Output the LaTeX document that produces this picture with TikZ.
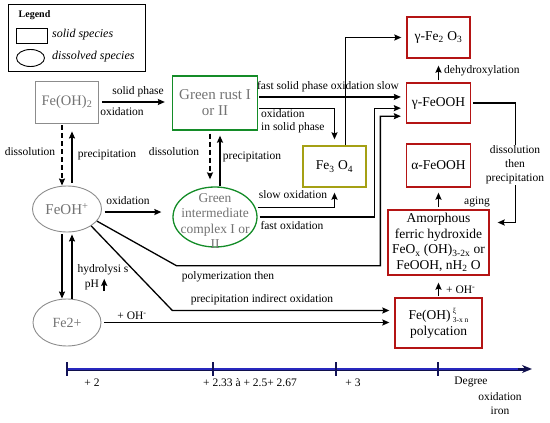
\documentclass[tikz,border=0pt]{standalone}
\usepackage{fontspec}
\setmainfont{Liberation Serif}
\usetikzlibrary{shapes.geometric,arrows.meta}
\definecolor{boxred}{RGB}{180,20,20}
\definecolor{boxgreen}{RGB}{20,140,40}
\definecolor{boxolive}{RGB}{165,160,20}
\definecolor{axisblue}{RGB}{40,40,190}
\begin{document}
\begin{tikzpicture}[x=1pt,y=-1pt,>={Stealth[length=7pt,width=6pt,inset=1pt]},
    lbl/.style={font=\fontsize{11.5}{13.5}\selectfont,inner sep=1pt},
    boxtxt/.style={font=\fontsize{13.5}{15.5}\selectfont,align=center,inner sep=1pt},
    dimtxt/.style={text=black!55},
    redbox/.style={boxtxt,draw=boxred,line width=1.3pt},
    arr/.style={->,line width=1.3pt},
    dsh/.style={arr,dash pattern=on 5pt off 3pt},
    axtick/.style={draw=axisblue!45!black,line width=1.6pt}]
  \useasboundingbox (0,0) rectangle (550,423);
  % legend
  \node[draw,line width=0.9pt,minimum width=137pt,minimum height=67pt] (legend) at (76.5,37.5) {};
  \node[font=\fontsize{10}{12}\selectfont\bfseries,inner sep=0pt] (legtitle) at (34.5,15) {Legend};
  \node[draw,line width=0.9pt,minimum width=31pt,minimum height=15pt,inner sep=0pt] (legsolid) at (31.5,35.5) {};
  \node[draw,ellipse,line width=0.9pt,minimum width=28pt,minimum height=17pt,inner sep=0pt] (legdiss) at (30.5,58) {};
  \node[lbl,font=\fontsize{12}{14}\selectfont\itshape,anchor=west] (legsolidtxt) at (51,35) {solid species};
  \node[lbl,font=\fontsize{12}{14}\selectfont\itshape,anchor=west] (legdisstxt) at (51,57) {dissolved species};
  % species
  \node[draw=black!45,line width=0.9pt,minimum width=63pt,minimum height=42pt,boxtxt,dimtxt,font=\fontsize{14.5}{16}\selectfont] (feoh2) at (67,102) {Fe(OH)\textsubscript{2}};
  \node[draw=boxgreen,line width=1.3pt,minimum width=85pt,minimum height=54pt,boxtxt,dimtxt,font=\fontsize{15}{16}\selectfont] (grust) at (215,103) {Green rust I\\or II};
  \node[draw=black!45,ellipse,line width=0.9pt,minimum width=69pt,minimum height=46pt,boxtxt,dimtxt,font=\fontsize{15}{16}\selectfont] (feohp) at (67,209) {FeOH\textsuperscript{+}};
  \node[draw=boxgreen,ellipse,line width=1.3pt,minimum width=84pt,minimum height=60pt] (gic) at (215,217) {};
  \node[boxtxt,dimtxt] (gictxt) at (215,221) {Green\\intermediate\\complex I or\\II};
  \node[draw=black!45,ellipse,line width=0.9pt,minimum width=68pt,minimum height=47pt,boxtxt,dimtxt,font=\fontsize{14}{16}\selectfont] (fe2) at (67,322.5) {Fe2+};
  \node[boxtxt,draw=boxolive,line width=1.3pt,minimum width=63pt,minimum height=41pt] (fe3o4) at (334.5,166.5) {Fe\textsubscript{3} O\textsubscript{4}};
  \node[redbox,minimum width=63pt,minimum height=41pt] (gfe2o3) at (438.5,37.5) {γ-Fe\textsubscript{2} O\textsubscript{3}};
  \node[redbox,minimum width=64pt,minimum height=40pt] (gfeooh) at (438.5,103) {γ-FeOOH};
  \node[redbox,minimum width=64pt,minimum height=43pt] (afeooh) at (438.5,165.5) {α-FeOOH};
  \node[redbox,minimum width=101pt,minimum height=65pt] (amorph) at (438.5,242.5) {Amorphous\\ferric hydroxide\\FeO\textsubscript{x} (OH)\textsubscript{3-2x} or\\FeOOH, nH\textsubscript{2} O};
  \node[redbox,minimum width=87pt,minimum height=50pt] (polyc) at (438.5,323) {Fe(OH)\,\raisebox{-0.4ex}{\fontsize{7.5}{7.5}\selectfont\shortstack[l]{ξ\\3-x n}}\\polycation};
  % labels
  \node[lbl] (lsolid) at (138,92) {solid phase};
  \node[lbl] (loxa) at (122,112) {oxidation};
  \node[lbl] (ldissa) at (30,152) {dissolution};
  \node[lbl] (lpreca) at (107,155) {precipitation};
  \node[lbl] (ldissb) at (174,152) {dissolution};
  \node[lbl] (lprecb) at (252,157) {precipitation};
  \node[lbl] (loxb) at (128,201) {oxidation};
  \node[lbl] (lfastsolid) at (328,87) {fast solid phase oxidation slow};
  \node[lbl,align=left,anchor=west,font=\fontsize{11.5}{13}\selectfont] (linsolid) at (260,121.5) {oxidation\\in solid phase};
  \node[lbl,anchor=west] (ldehyd) at (443,71) {dehydroxylation};
  \node[lbl] (lslow) at (293,195) {slow oxidation};
  \node[lbl] (lfast) at (292,226) {fast oxidation};
  \node[lbl] (lpolym) at (228,277) {polymerization then};
  \node[lbl] (lprecind) at (262,300) {precipitation indirect oxidation};
  \node[lbl] (lhydro) at (103,270) {hydrolysi s};
  \node[lbl] (ph) at (92,285) {pH};
  \node[lbl] (lohma) at (132,316) {+ OH\textsuperscript{-}};
  \node[lbl,anchor=west] (lohmb) at (445,290) {+ OH\textsuperscript{-}};
  \node[lbl] (laging) at (477,202) {aging};
  % connectors
  \draw[arr,shorten <=3pt,shorten >=7pt] (feoh2.east) -- (feoh2.east -| grust.west);
  \draw[dsh,shorten <=2pt] ([xshift=-5pt]feoh2.south) -- ([xshift=-5pt]feohp.north);
  \draw[arr,shorten <=3pt,shorten >=8pt] ([xshift=5pt]feohp.north) -- ([xshift=5pt]feoh2.south);
  \draw[dsh,shorten <=3pt,shorten >=7pt] ([xshift=-5pt]grust.south) -- ([xshift=-5pt]gic.north);
  \draw[arr,shorten >=5pt] ([xshift=5pt]gic.north) -- ([xshift=5pt]grust.south);
  \draw[arr,shorten <=3pt,shorten >=11pt] (feohp.-5) -- (feohp.-5 -| gic.west);
  \draw[arr,shorten <=2pt] ([xshift=-5pt]feohp.south) -- ([xshift=-5pt]fe2.north);
  \draw[arr,shorten >=2pt] ([xshift=5pt]fe2.north) -- ([xshift=5pt]feohp.south);
  \draw[arr,line width=1.5pt] ([xshift=4pt]ph.south east) -- ([xshift=4pt]ph.north east);
  \draw[arr,shorten <=3pt,shorten >=5pt] (fe2.east) -- (fe2.east -| polyc.west);
  \draw[arr,shorten <=1pt,shorten >=5pt] (grust.8) -- (grust.8 -| gfeooh.west);
  \draw[arr,shorten <=1pt,shorten >=6pt] (grust.-7) -| (fe3o4.north);
  \draw[arr,shorten >=5pt] (fe3o4.63) |- (gfe2o3.west);
  \draw[arr,shorten <=2pt,shorten >=5pt] (gic.13) -| (fe3o4.south);
  \draw[arr,shorten <=2pt,shorten >=5pt] (gic.east) -| ([xshift=-13pt]amorph.north west) |- (gfeooh.189);
  \draw[arr,shorten >=5pt] (feohp.-22) -- ([xshift=-211pt,yshift=10pt]amorph.south west) -| ([xshift=-7pt]amorph.north west) |- (gfeooh.202);
  \draw[arr,shorten >=5pt] (feohp.-35) -- ([xshift=-222pt,yshift=12.5pt]polyc.west) -- ([yshift=12.5pt]polyc.west);
  \draw[arr,shorten <=2pt,shorten >=7pt] (gfeooh.north) -- (gfe2o3.south);
  \draw[arr,shorten <=2pt,shorten >=5pt] (amorph.north) -- (afeooh.south);
  \draw[arr,shorten <=1pt,shorten >=7pt] (polyc.north) -- (amorph.south);
  \draw[arr,shorten <=2pt] (gfeooh.east) -| ([xshift=26pt,yshift=20pt]amorph.east) -- ([xshift=8pt,yshift=20pt]amorph.east);
  \node[lbl,fill=white,align=center,font=\fontsize{11.5}{14}\selectfont] (dissprec) at (515,165) {dissolution\\then\\precipitation};
  % oxidation degree axis
  \coordinate (axstart) at (67,369);
  \coordinate (axend) at (532,369);
  \draw[-{Stealth[length=10pt,width=8pt]},line width=3pt,draw=axisblue!40!black] (axstart) -- (axend);
  \draw[line width=1.5pt,draw=axisblue] (axstart) -- ([xshift=-14pt]axend);
  \foreach \t in {67,213,336,438} \draw[axtick] (\t,362) -- (\t,376);
  \node[lbl] (ltwo) at (92,383) {+ 2};
  \node[lbl,anchor=west] (lmixed) at (202,383) {+ 2.33 à + 2.5+ 2.67};
  \node[lbl] (lthree) at (353,383) {+ 3};
  \node[lbl] (ldega) at (471,382) {Degree};
  \node[lbl] (ldegb) at (500,397) {oxidation};
  \node[lbl] (ldegc) at (500,411) {iron};
\end{tikzpicture}
\end{document}
